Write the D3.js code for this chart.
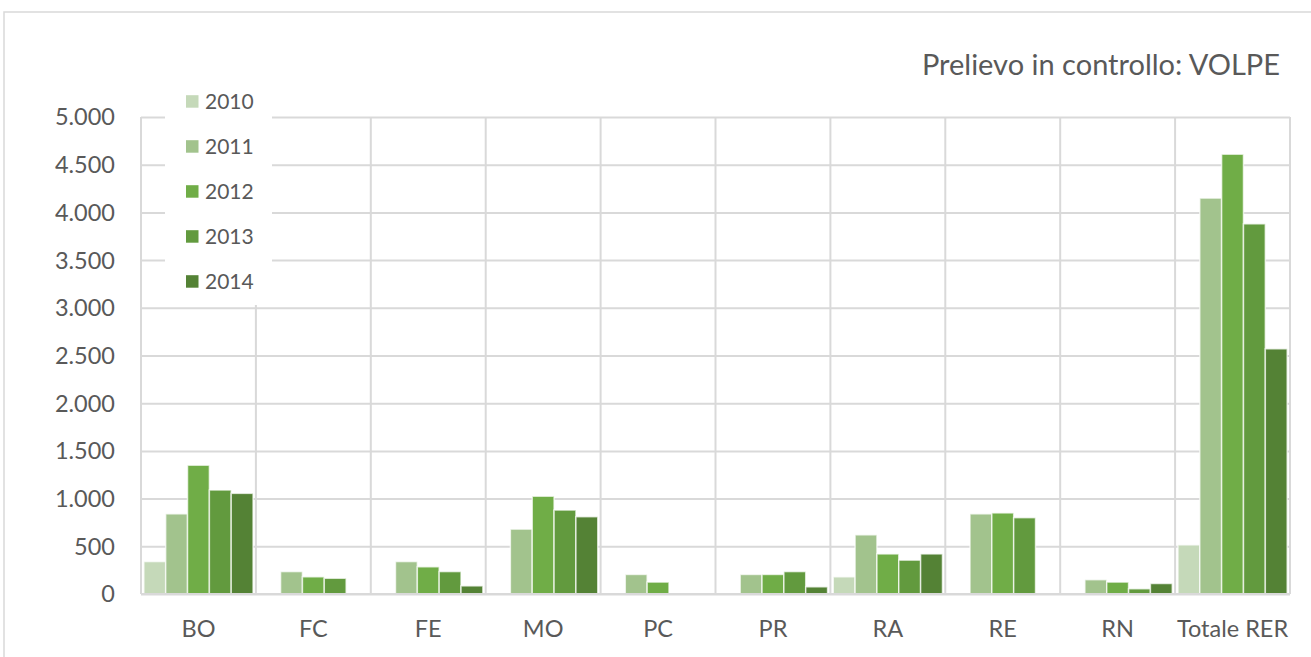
<!DOCTYPE html>
<html>
<head>
<meta charset="utf-8">
<script src="https://cdn.jsdelivr.net/npm/d3@7"></script>
<style>
  body { margin: 0; background: #fff; }
  text { font-family: Lato, "Open Sans", sans-serif; fill: #595959; }
</style>
</head>
<body>
<svg id="chart"></svg>
<script>
const categories = ["BO","FC","FE","MO","PC","PR","RA","RE","RN","Totale RER"];
const years = ["2010","2011","2012","2013","2014"];
const v2010 = [340, 0, 0, 0, 0, 0, 180, 0, 0, 515];
const v2011 = [840, 235, 340, 680, 205, 205, 620, 840, 150, 4150];
const v2012 = [1350, 180, 285, 1025, 125, 205, 420, 850, 125, 4610];
const v2013 = [1090, 165, 235, 880, 0, 235, 355, 800, 55, 3880];
const v2014 = [1055, 0, 85, 810, 0, 75, 420, 0, 110, 2570];
const yTicks = [0,500,1000,1500,2000,2500,3000,3500,4000,4500,5000];
const colors = ["#c5d9b9","#a2c38d","#70ad47","#629a3e","#548235"];

const series = [v2010, v2011, v2012, v2013, v2014];
const W = 1311, H = 657;
const margin = {top: 117, right: 21, bottom: 63, left: 141};

const svg = d3.select("#chart").attr("width", W).attr("height", H);

// outer chart frame
svg.append("rect")
    .attr("x", 4).attr("y", 12)
    .attr("width", W + 20).attr("height", H)
    .attr("fill", "none")
    .attr("stroke", "#d9d9d9")
    .attr("stroke-width", 1.5);

const x0 = d3.scaleBand()
    .domain(categories)
    .range([margin.left, W - margin.right])
    .paddingInner(0);
const x1 = d3.scaleBand()
    .domain(years)
    .range([0, x0.bandwidth()])
    .paddingInner(0)
    .paddingOuter(0.13);
const y = d3.scaleLinear()
    .domain([0, 5000])
    .range([H - margin.bottom, margin.top]);

const it = d3.formatLocale({decimal: ",", thousands: ".", grouping: [3], currency: ["", "€"]});
const fmt = it.format(",");

// horizontal gridlines
svg.append("g")
    .attr("transform", `translate(${margin.left},0)`)
    .call(d3.axisLeft(y).tickValues(yTicks).tickSize(-(W - margin.left - margin.right)).tickFormat(""))
    .call(g => g.select(".domain").remove())
    .call(g => g.selectAll("line").attr("stroke", "#d9d9d9").attr("stroke-width", 2));

// vertical gridlines at category boundaries
const bounds = categories.map(c => x0(c)).concat([x0.range()[1]]);
svg.append("g").selectAll("line")
    .data(bounds)
    .join("line")
    .attr("x1", d => d).attr("x2", d => d)
    .attr("y1", y(5000)).attr("y2", y(0))
    .attr("stroke", "#d9d9d9").attr("stroke-width", 2);

// y tick labels
svg.append("g").selectAll("text")
    .data(yTicks)
    .join("text")
    .attr("x", 115)
    .attr("y", d => y(d))
    .attr("dy", "0.36em")
    .attr("text-anchor", "end")
    .attr("font-size", 23.5)
    .text(d => fmt(d));

// bars
const groups = svg.append("g").selectAll("g")
    .data(categories)
    .join("g")
    .attr("transform", c => `translate(${x0(c)},0)`);

groups.selectAll("rect")
    .data((c, i) => years.map((yr, j) => ({yr, j, v: series[j][i]})).filter(d => d.v > 0))
    .join("rect")
    .attr("x", d => x1(d.yr))
    .attr("width", x1.bandwidth())
    .attr("y", d => y(d.v))
    .attr("height", d => y(0) - y(d.v))
    .attr("fill", d => colors[d.j])
    .attr("stroke", "#fff")
    .attr("stroke-opacity", 0.7)
    .attr("stroke-width", 1.5);

// baseline
svg.append("line")
    .attr("x1", margin.left).attr("x2", W - margin.right)
    .attr("y1", y(0)).attr("y2", y(0))
    .attr("stroke", "#d9d9d9").attr("stroke-width", 2);

// x labels
svg.append("g").selectAll("text")
    .data(categories)
    .join("text")
    .attr("x", c => x0(c) + x0.bandwidth() / 2)
    .attr("y", 637)
    .attr("text-anchor", "middle")
    .attr("font-size", 23.5)
    .text(c => c);

// legend
const legend = svg.append("g");
legend.append("rect")
    .attr("x", 165).attr("y", 84)
    .attr("width", 107).attr("height", 221)
    .attr("fill", "#fff");
const items = legend.selectAll("g")
    .data(years)
    .join("g")
    .attr("transform", (d, i) => `translate(186,${101.7 + i * 45})`);
items.append("rect")
    .attr("x", 0).attr("y", -6.5)
    .attr("width", 12.5).attr("height", 12.5)
    .attr("fill", (d, i) => colors[i]);
items.append("text")
    .attr("x", 19).attr("y", 0)
    .attr("dy", "0.36em")
    .attr("font-size", 21)
    .text(d => d);

// title
svg.append("text")
    .attr("x", 1280).attr("y", 75)
    .attr("text-anchor", "end")
    .attr("font-size", 29)
    .text("Prelievo in controllo: VOLPE");
</script>
</body>
</html>
